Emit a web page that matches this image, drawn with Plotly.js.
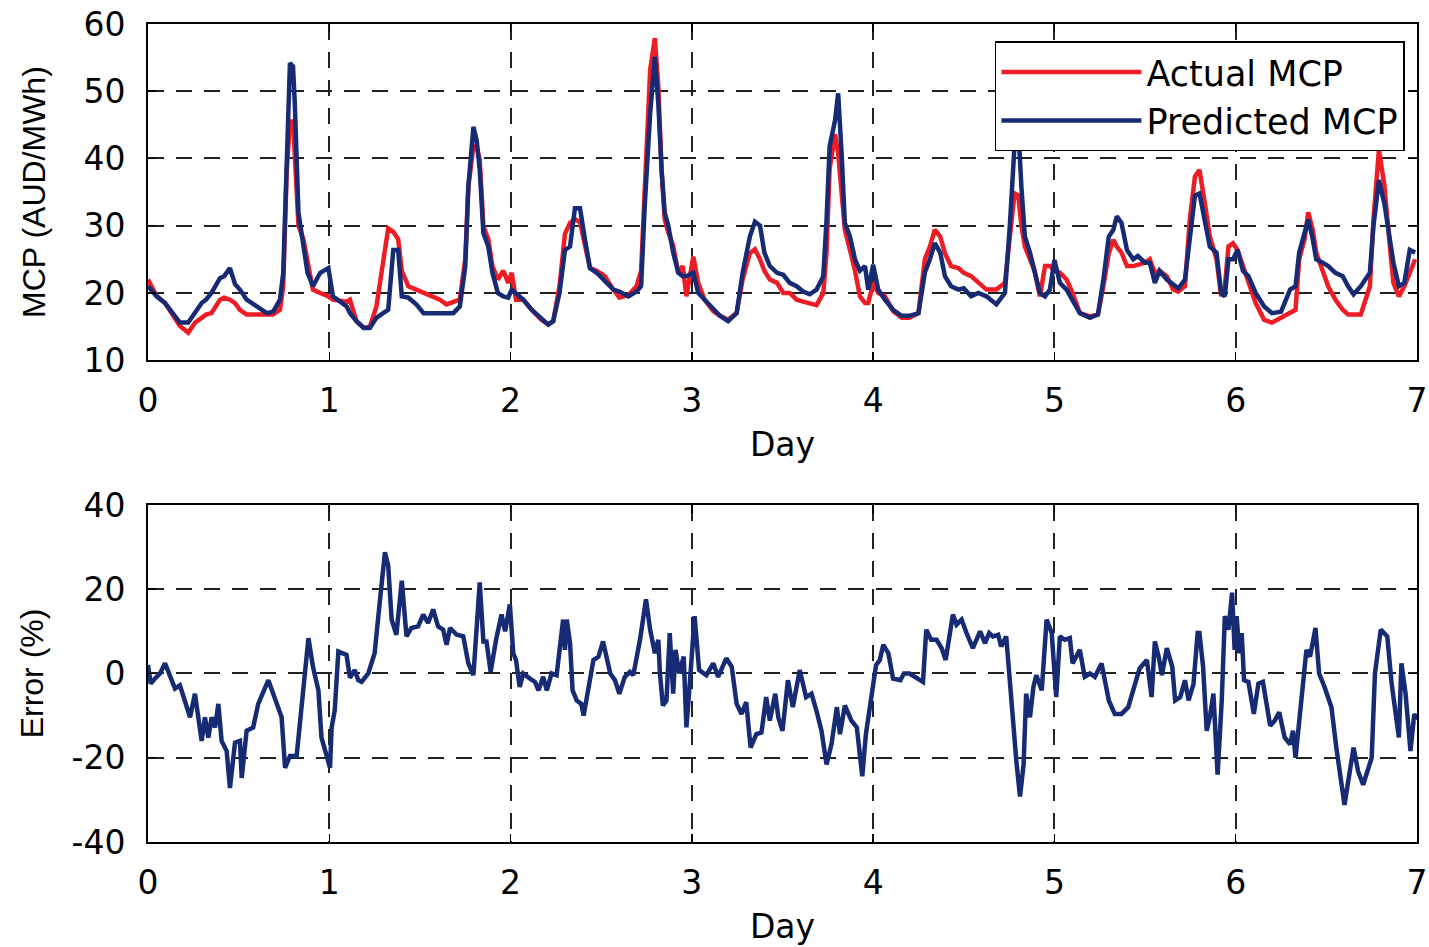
<!DOCTYPE html>
<html>
<head>
<meta charset="utf-8">
<script src="https://cdn.plot.ly/plotly-3.0.1.min.js"></script>
<style>html,body{margin:0;padding:0;background:#fff;}#chart{width:1429px;height:947px;}</style>
</head>
<body>
<div id="chart"></div>
<script>
// ---- Top panel: MCP (AUD/MWh) vs Day ----
const dayTop = [0.00,0.048,0.094,0.15,0.176,0.222,0.26,0.296,0.32,0.35,0.397,0.42,0.452,0.48,0.507,0.544,0.60,0.655,0.69,0.728,0.746,0.765,0.783,0.80,0.81,0.83,0.857,0.88,0.91,0.95,0.995,1.02,1.096,1.114,1.15,1.19,1.224,1.26,1.297,1.325,1.353,1.38,1.40,1.436,1.48,1.52,1.573,1.61,1.647,1.684,1.72,1.75,1.767,1.795,1.813,1.83,1.85,1.877,1.90,1.93,1.96,1.987,2.006,2.03,2.07,2.116,2.17,2.208,2.235,2.27,2.30,2.328,2.355,2.383,2.41,2.438,2.475,2.52,2.567,2.60,2.65,2.695,2.72,2.74,2.77,2.796,2.815,2.833,2.85,2.87,2.897,2.925,2.95,2.97,3.008,3.035,3.07,3.118,3.155,3.20,3.247,3.28,3.32,3.348,3.376,3.40,3.43,3.47,3.504,3.54,3.578,3.614,3.65,3.688,3.725,3.743,3.76,3.79,3.807,3.826,3.844,3.872,3.90,3.927,3.955,3.973,4.00,4.028,4.065,4.11,4.157,4.20,4.25,4.285,4.313,4.34,4.37,4.396,4.43,4.47,4.50,4.54,4.58,4.625,4.68,4.727,4.754,4.78,4.80,4.818,4.837,4.865,4.89,4.92,4.948,4.975,5.00,5.03,5.067,5.10,5.14,5.196,5.24,5.27,5.30,5.325,5.344,5.37,5.40,5.435,5.46,5.50,5.526,5.554,5.58,5.62,5.655,5.683,5.72,5.747,5.775,5.80,5.83,5.857,5.894,5.92,5.94,5.96,5.985,6.01,6.04,6.07,6.11,6.157,6.20,6.25,6.30,6.33,6.35,6.38,6.40,6.425,6.444,6.48,6.51,6.55,6.59,6.62,6.65,6.69,6.74,6.76,6.79,6.82,6.85,6.87,6.90,6.93,6.96,6.99];
const actualMCP = [22.0,19.5,18.5,16.0,15.1,14.1,15.6,16.3,16.8,17.0,19.0,19.3,19.0,18.5,17.5,16.8,16.8,16.8,16.8,17.5,21.0,38.0,45.5,45.5,41.0,30.0,28.0,24.6,20.5,20.0,19.5,19.0,18.7,19.0,15.8,14.8,15.0,18.0,24.4,29.6,29.1,28.0,23.3,21.0,20.5,20.0,19.5,19.0,18.3,18.7,19.0,25.0,35.8,41.8,41.8,39.8,29.9,28.0,24.0,22.0,23.3,21.5,23.0,19.0,19.0,17.5,16.0,15.3,15.8,21.0,28.8,30.4,31.0,30.5,27.0,23.7,23.3,22.5,20.5,19.3,19.7,21.0,23.3,36.0,53.2,57.9,50.6,38.3,31.0,29.0,27.0,23.0,24.0,19.5,25.4,21.5,19.0,17.3,16.6,16.0,17.0,22.0,25.9,26.5,25.0,23.3,22.0,21.5,20.0,20.0,19.0,18.7,18.5,18.2,20.0,26.0,38.5,43.6,40.8,34.7,29.4,26.4,23.3,19.5,18.5,18.5,21.5,20.0,19.5,17.3,16.3,16.3,17.0,25.0,26.9,29.4,28.4,25.9,24.0,23.7,23.0,22.5,21.5,20.5,20.5,21.5,28.4,34.8,34.5,30.0,26.9,25.0,23.3,19.5,24.0,24.0,23.3,23.0,22.0,20.0,17.0,16.5,16.8,21.0,25.9,27.9,26.9,26.0,24.0,24.0,24.2,24.5,25.0,23.0,23.3,22.5,20.5,20.2,21.0,31.0,37.3,38.3,33.3,28.4,25.0,19.5,21.0,26.9,27.4,26.4,24.0,21.5,18.5,16.0,15.6,16.3,17.0,17.5,25.0,28.0,32.0,29.4,26.0,23.3,21.0,19.0,17.5,16.8,16.8,16.8,21.0,31.0,41.3,36.0,27.0,21.5,19.5,21.0,23.0,25.0];
const predictedMCP = [21.0,19.5,18.5,16.5,15.6,15.6,17.0,18.5,19.0,20.0,22.2,22.5,23.7,21.3,20.5,19.0,18.0,17.0,17.2,19.0,23.0,40.8,54.2,53.7,48.0,31.9,26.9,23.0,21.0,23.0,23.7,19.5,18.0,17.0,15.8,14.8,14.8,16.3,17.0,17.5,26.4,26.4,19.5,19.3,18.3,17.0,17.0,17.0,17.0,17.0,18.0,23.9,35.8,44.7,42.7,38.3,28.9,26.9,23.0,20.0,19.5,19.3,20.5,20.0,19.0,17.5,16.3,15.3,15.8,20.0,26.4,26.9,32.6,32.6,28.0,23.7,23.0,21.7,20.5,20.2,19.5,20.2,21.0,32.9,46.7,55.1,48.2,38.3,32.0,30.0,26.0,23.0,22.5,22.5,23.0,20.0,19.0,17.5,16.6,15.8,17.0,23.0,28.4,30.6,30.0,26.0,24.0,23.0,22.7,21.5,21.0,20.2,19.8,20.5,22.5,30.9,41.8,45.7,49.7,40.8,30.4,28.4,25.0,23.3,24.0,20.5,24.2,20.5,19.0,17.5,16.6,16.6,17.0,23.0,25.0,27.4,26.0,22.5,21.0,20.5,20.7,19.5,20.0,19.5,18.3,20.0,30.0,42.0,45.0,35.7,28.4,26.0,23.0,20.0,19.5,20.5,24.9,21.5,20.5,19.0,17.0,16.3,16.8,22.0,28.4,29.4,31.4,30.4,26.4,25.0,25.5,24.5,24.5,21.5,23.3,22.0,21.2,20.7,22.0,28.4,34.5,34.8,31.0,26.9,26.0,20.0,19.5,25.0,25.0,26.4,23.3,22.5,20.0,18.0,17.0,17.2,20.5,21.0,26.0,28.9,30.9,28.0,25.0,24.5,24.0,23.0,22.5,21.0,19.8,21.0,23.0,30.0,36.8,33.3,28.0,24.5,21.0,21.5,26.4,26.0];

// ---- Bottom panel: Error (%) vs Day ----
const dayErr = [0.00,0.015,0.039,0.066,0.094,0.121,0.149,0.176,0.204,0.232,0.259,0.278,0.296,0.314,0.333,0.351,0.37,0.388,0.406,0.434,0.452,0.48,0.507,0.517,0.544,0.58,0.608,0.664,0.70,0.737,0.756,0.783,0.82,0.857,0.885,0.91,0.94,0.957,0.985,1.004,1.013,1.03,1.05,1.095,1.114,1.14,1.16,1.178,1.215,1.25,1.28,1.307,1.325,1.344,1.37,1.40,1.426,1.453,1.49,1.518,1.545,1.573,1.60,1.628,1.647,1.666,1.703,1.739,1.767,1.795,1.83,1.85,1.867,1.89,1.92,1.95,1.97,1.996,2.015,2.03,2.05,2.07,2.107,2.135,2.154,2.18,2.20,2.226,2.254,2.28,2.29,2.30,2.31,2.328,2.342,2.365,2.39,2.403,2.43,2.457,2.485,2.51,2.55,2.576,2.60,2.63,2.658,2.677,2.714,2.747,2.77,2.796,2.815,2.824,2.84,2.86,2.878,2.897,2.91,2.93,2.955,2.97,2.99,3.015,3.04,3.08,3.118,3.145,3.19,3.22,3.247,3.274,3.30,3.324,3.356,3.384,3.41,3.43,3.46,3.477,3.50,3.53,3.557,3.595,3.63,3.66,3.687,3.715,3.743,3.77,3.80,3.817,3.844,3.88,3.91,3.94,3.96,3.99,4.016,4.037,4.056,4.084,4.11,4.15,4.17,4.20,4.23,4.25,4.275,4.293,4.32,4.35,4.378,4.40,4.44,4.46,4.488,4.515,4.55,4.59,4.617,4.64,4.66,4.69,4.706,4.734,4.76,4.79,4.81,4.83,4.844,4.865,4.884,4.90,4.93,4.957,4.985,5.01,5.03,5.057,5.085,5.10,5.14,5.167,5.196,5.223,5.26,5.30,5.333,5.37,5.407,5.445,5.47,5.51,5.536,5.554,5.575,5.593,5.62,5.65,5.666,5.694,5.72,5.74,5.767,5.79,5.80,5.82,5.84,5.857,5.877,5.90,5.923,5.94,5.96,5.98,5.994,6.005,6.02,6.033,6.046,6.07,6.10,6.125,6.15,6.19,6.215,6.24,6.27,6.30,6.316,6.33,6.36,6.39,6.41,6.44,6.46,6.49,6.528,6.555,6.60,6.625,6.65,6.675,6.703,6.75,6.768,6.80,6.836,6.86,6.88,6.90,6.914,6.937,6.964,6.985,7.00];
const errorPct = [2.0,-2.4,-1.2,0.0,2.4,-0.8,-3.6,-2.8,-6.4,-10.4,-4.8,-11.2,-16.0,-10.4,-15.2,-10.4,-12.8,-7.2,-16.0,-18.4,-27.2,-16.4,-16.0,-24.8,-13.6,-12.8,-7.2,-1.6,-5.6,-10.4,-22.4,-19.6,-19.6,-4.0,8.4,1.6,-4.0,-15.2,-20.0,-22.4,-12.8,-8.8,5.2,4.4,-1.0,0.8,-1.6,-2.0,0.0,4.8,17.6,28.8,25.6,12.8,9.2,22.0,8.8,10.8,11.2,14.0,12.0,15.2,11.2,10.4,6.8,10.8,9.2,8.8,2.4,-0.4,21.6,7.6,7.6,0.4,8.0,14.0,10.0,16.4,4.8,3.2,-3.2,0.0,-1.2,-2.0,-4.0,-0.8,-4.0,0.0,-0.4,8.0,12.8,5.6,12.8,7.2,-4.0,-6.4,-7.2,-10.0,-3.2,3.2,4.0,7.6,0.0,-1.6,-4.8,-0.8,0.4,-0.4,8.0,17.6,10.4,4.8,8.0,0.0,-7.6,-6.4,9.6,-4.8,5.6,0.0,4.0,-12.8,-1.6,13.6,0.8,-0.4,2.4,-0.8,3.6,1.6,-7.2,-9.6,-6.8,-17.6,-14.4,-14.0,-5.6,-11.2,-4.8,-10.4,-13.6,-1.6,-8.0,0.8,-5.6,-4.8,-8.8,-13.6,-21.6,-16.8,-8.0,-14.4,-7.6,-11.2,-12.8,-24.4,-14.4,-6.4,2.0,3.2,6.8,4.8,-1.2,-1.6,0.0,0.0,-0.8,-1.6,-2.0,10.4,8.0,8.0,6.0,3.2,14.0,11.6,12.8,9.6,6.0,10.0,7.2,9.6,8.8,9.2,6.4,8.8,-5.6,-20.8,-29.2,-21.6,-4.8,-10.4,-3.2,-0.4,-4.0,12.8,9.6,-5.6,8.8,8.0,8.4,2.4,5.6,-0.8,0.0,-0.8,2.4,-6.4,-9.6,-9.6,-8.0,-2.4,1.2,3.2,-5.6,7.6,4.0,-0.4,6.0,1.6,-6.4,-5.6,-1.6,-6.4,-2.5,9.6,9.6,1.6,-13.6,-10.4,-4.8,-24.0,-6.4,13.6,10.4,19.2,5.6,13.6,4.8,9.6,-1.6,-2.0,-9.6,-2.4,-2.0,-12.4,-11.2,-9.2,-15.2,-16.8,-13.6,-20.0,-6.4,5.6,4.0,10.8,0.0,-3.2,-8.0,-17.6,-31.2,-24.0,-17.6,-23.2,-26.4,-20.0,0.0,10.4,8.8,-2.4,-9.6,-15.2,2.4,-4.8,-18.4,-9.6,-11.0];

const xTicks = [0,1,2,3,4,5,6,7];
const topYTicks = [10,20,30,40,50,60];
const errYTicks = [-40,-20,0,20,40];

const RED = '#ee1c25', NAVY = '#172b74';
const HFONT = 'DejaVu Sans, Liberation Sans, Arial, sans-serif';
const VFONT = 'Liberation Sans, Arial, sans-serif';

const traces = [
  {x: dayTop, y: actualMCP, type: 'scatter', mode: 'lines', name: 'Actual MCP',
   line: {color: RED, width: 4.5}, xaxis: 'x', yaxis: 'y'},
  {x: dayTop, y: predictedMCP, type: 'scatter', mode: 'lines', name: 'Predicted MCP',
   line: {color: NAVY, width: 4.5}, xaxis: 'x', yaxis: 'y'},
  {x: dayErr, y: errorPct, type: 'scatter', mode: 'lines', name: 'Error',
   line: {color: NAVY, width: 4.5}, xaxis: 'x2', yaxis: 'y2', showlegend: false}
];

const GRID = {showgrid: true, gridcolor: '#222', gridwidth: 2, griddash: '16px,12px'};

function xAxis(anchor) {
  return Object.assign({
    anchor: anchor, domain: [0, 1], range: [0, 7], tickvals: xTicks, ticktext: xTicks.map(String),
    showline: true, linecolor: '#000', linewidth: 2, mirror: 'ticks',
    ticks: 'inside', ticklen: 8, tickcolor: '#000', tickwidth: 1.5,
    zeroline: false, tickfont: {family: HFONT, size: 33, color: '#000'},
    ticklabelstandoff: 10,
    title: {text: 'Day', font: {family: HFONT, size: 33, color: '#000'}, standoff: 14}
  }, GRID);
}
function yAxis(domain, anchor, range, ticks, title, standoff) {
  return Object.assign({
    domain: domain, anchor: anchor, range: range, tickvals: ticks, ticktext: ticks.map(String),
    showline: true, linecolor: '#000', linewidth: 2, mirror: 'ticks',
    ticks: 'inside', ticklen: 8, tickcolor: '#000', tickwidth: 1.5,
    zeroline: false, tickfont: {family: HFONT, size: 33, color: '#000'},
    ticklabelstandoff: 14,
    title: {text: title, font: {family: VFONT, size: 32, color: '#000'}, standoff: standoff}
  }, GRID);
}

const layout = {
  width: 1429, height: 947,
  margin: {l: 148, r: 12, t: 24, b: 105},
  paper_bgcolor: '#fff', plot_bgcolor: '#fff',
  showlegend: true,
  xaxis: xAxis('y'),
  xaxis2: xAxis('y2'),
  yaxis: yAxis([0.589, 1], 'x', [10, 60], topYTicks, 'MCP (AUD/MWh)', 28),
  yaxis2: yAxis([0, 0.412], 'x2', [-40, 40], errYTicks, 'Error (%)', 18),
  legend: {
    x: 0.9905, xanchor: 'right', y: 0.979, yanchor: 'top',
    bgcolor: '#fff', bordercolor: '#000', borderwidth: 1.5,
    font: {family: HFONT, size: 35, color: '#000'},
    itemwidth: 140, tracegroupgap: 0
  }
};

Plotly.newPlot('chart', traces, layout, {displayModeBar: false, staticPlot: true});
</script>
</body>
</html>
